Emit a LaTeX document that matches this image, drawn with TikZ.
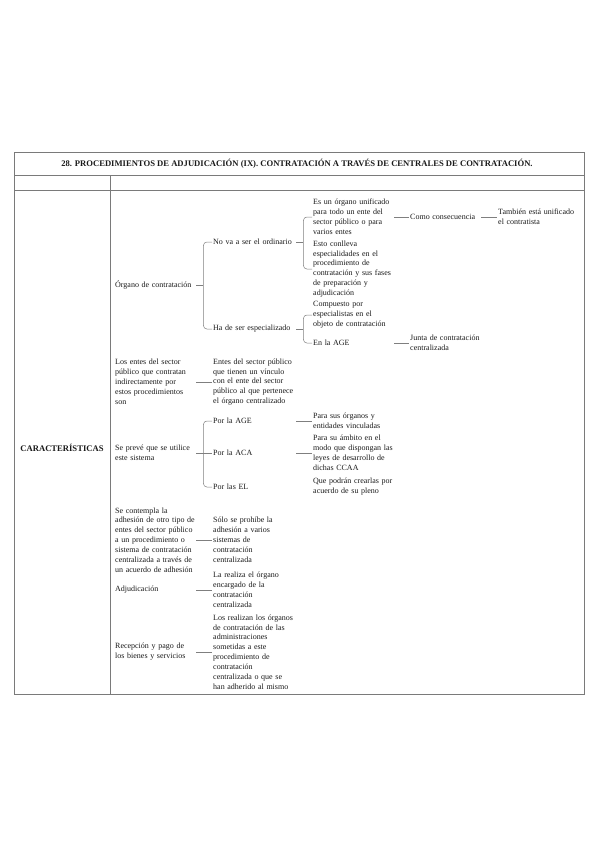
\documentclass[tikz,border=0pt]{standalone}
\usepackage{fontspec}
\setmainfont{Liberation Serif}
\usetikzlibrary{positioning,calc}
\definecolor{rulegray}{HTML}{7A7A7A}
\definecolor{linkgray}{HTML}{7F7F7F}
\definecolor{inkgray}{HTML}{1A1A1A}

\begin{document}
\begin{tikzpicture}[x=1pt,y=-1pt,
    txt/.style={font=\fontsize{8}{9.9}\selectfont, text=inkgray, anchor=west,
      inner xsep=1pt, inner ysep=0pt, align=left},
    colA/.style={txt, text width=80pt},
    colB/.style={txt, text width=82pt},
    colC/.style={txt, text width=80pt},
    colD/.style={txt, text width=70pt},
    colE/.style={txt, text width=84pt},
    head/.style={font=\fontsize{8.6}{10}\selectfont\bfseries, text=inkgray, inner sep=0pt},
    rule/.style={draw=rulegray, line width=0.8pt},
    link/.style={draw=linkgray, line width=0.5pt},
    bracelink/.style={link, rounded corners=3.5pt}]
  \useasboundingbox (0,0) rectangle (599,848);

  % table frame
  \draw[rule] (14,152) rectangle (584,694);
  \draw[rule] (14,175) -- (584,175);
  \draw[rule] (14,190) -- (584,190);
  \draw[rule] (110,175) -- (110,694);

  \node[head] (title) at (297,164) {28. PROCEDIMIENTOS DE ADJUDICACIÓN (IX). CONTRATACIÓN A TRAVÉS DE CENTRALES DE CONTRATACIÓN.};
  \node[head] (caract) at (62,448) {CARACTERÍSTICAS};

  % first column
  \node[colA] (organo) at (114,285) {Órgano de contratación};
  \node[colA] (losentes) at (114,382) {Los entes del sector\\público que contratan\\indirectamente por\\estos procedimientos\\son};
  \node[colA] (sepreve) at (114,453) {Se prevé que se utilice\\este sistema};
  \node[colA] (secontempla) at (114,540) {Se contempla la\\adhesión de otro tipo de\\entes del sector público\\a un procedimiento o\\sistema de contratación\\centralizada a través de\\un acuerdo de adhesión};
  \node[colA] (adjud) at (114,590) {Adjudicación};
  \node[colA] (recepcion) at (114,652) {Recepción y pago de\\los bienes y servicios};

  % second column
  \node[colB] (nova) at (212,242) {No va a ser el ordinario};
  \node[colB] (hade) at (212,329) {Ha de ser especializado};
  \node[colB] (entes) at (212,382) {Entes del sector público\\que tienen un vínculo\\con el ente del sector\\público al que pertenece\\el órgano centralizado};
  \node[colB] (porage) at (212,421) {Por la AGE};
  \node[colB] (poraca) at (212,453) {Por la ACA};
  \node[colB] (porel) at (212,487) {Por las EL};
  \node[colB] (soloprohibe) at (212,540) {Sólo se prohíbe la\\adhesión a varios\\sistemas de\\contratación\\centralizada};
  \node[colB] (larealiza) at (212,590) {La realiza el órgano\\encargado de la\\contratación\\centralizada};
  \node[colB] (losrealizan) at (212,652) {Los realizan los órganos\\de contratación de las\\administraciones\\sometidas a este\\procedimiento de\\contratación\\centralizada o que se\\han adherido al mismo};

  % third column
  \node[colC] (unificado) at (312,217) {Es un órgano unificado\\para todo un ente del\\sector público o para\\varios entes};
  \node[colC] (conlleva) at (312,269) {Esto conlleva\\especialidades en el\\procedimiento de\\contratación y sus fases\\de preparación y\\adjudicación};
  \node[colC] (compuesto) at (312,315) {Compuesto por\\especialistas en el\\objeto de contratación};
  \node[colC] (enage) at (312,343) {En la AGE};
  \node[colC] (parasus) at (312,421) {Para sus órganos y\\entidades vinculadas};
  \node[colC] (paraambito) at (312,453) {Para su ámbito en el\\modo que dispongan las\\leyes de desarrollo de\\dichas CCAA};
  \node[colC] (quepodran) at (312,487) {Que podrán crearlas por\\acuerdo de su pleno};

  % fourth and fifth column
  \node[colD] (consecuencia) at (409,217) {Como consecuencia};
  \node[colD] (junta) at (409,343) {Junta de contratación\\centralizada};
  \node[colE] (tambien) at (497,217) {También está unificado\\el contratista};

  % braces
  \draw[bracelink] (nova.west) -| ($(organo.east)+(7,0)$) |- (hade.west);
  \draw[link] (organo.east) -- ($(organo.east)+(7,0)$);
  \draw[bracelink] (unificado.west) -| ($(nova.east)+(7,0)$) |- (conlleva.west);
  \draw[link] (nova.east) -- ($(nova.east)+(7,0)$);
  \draw[bracelink] (compuesto.west) -| ($(hade.east)+(7,0)$) |- (enage.west);
  \draw[link] (hade.east) -- ($(hade.east)+(7,0)$);
  \draw[bracelink] (porage.west) -| ($(sepreve.east)+(7,0)$) |- (porel.west);
  \draw[link] (sepreve.east) -- (poraca.west);

  % plain links
  \draw[link] (unificado.east) -- (consecuencia.west);
  \draw[link] (consecuencia.east) -- (tambien.west);
  \draw[link] (enage.east) -- (junta.west);
  \draw[link] (losentes.east) -- (entes.west);
  \draw[link] (porage.east) -- (parasus.west);
  \draw[link] (poraca.east) -- (paraambito.west);
  \draw[link] (secontempla.east) -- (soloprohibe.west);
  \draw[link] (adjud.east) -- (larealiza.west);
  \draw[link] (recepcion.east) -- (losrealizan.west);
\end{tikzpicture}
\end{document}
